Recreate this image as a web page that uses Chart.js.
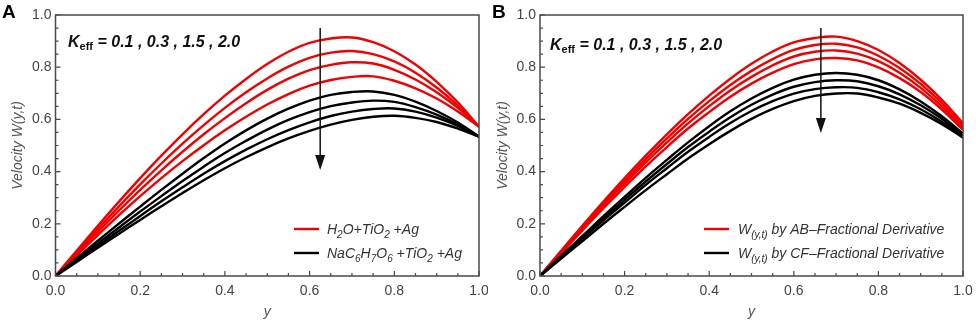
<!DOCTYPE html>
<html>
<head>
<meta charset="utf-8">
<script src="https://cdn.jsdelivr.net/npm/chart.js@4.4.1/dist/chart.umd.min.js"></script>
<style>
  html, body { margin: 0; padding: 0; background: #fff; }
  #wrap { position: relative; width: 976px; height: 325px; }
  canvas { position: absolute; top: 0; }
</style>
</head>
<body>
<div id="wrap">
  <canvas id="chartA" width="488" height="325" style="left:0"></canvas>
  <canvas id="chartB" width="488" height="325" style="left:488px"></canvas>
</div>
<script>
// y positions (x axis) shared by every curve
const yPos = [0, 0.05, 0.1, 0.15, 0.2, 0.25, 0.3, 0.35, 0.4, 0.45, 0.5,
              0.55, 0.6, 0.65, 0.7, 0.75, 0.8, 0.85, 0.9, 0.95, 1.0];

// panel A : H2O+TiO2+Ag (red) vs NaC6H7O6+TiO2+Ag (black), Keff = 0.1, 0.3, 1.5, 2.0
const aRed1   = [0, 0.097, 0.192, 0.285, 0.375, 0.461, 0.543, 0.620, 0.691, 0.755, 0.812, 0.859, 0.893, 0.910, 0.914, 0.896, 0.861, 0.810, 0.744, 0.665, 0.572];
const aRed2   = [0, 0.091, 0.180, 0.267, 0.351, 0.431, 0.507, 0.578, 0.644, 0.704, 0.757, 0.802, 0.836, 0.856, 0.862, 0.850, 0.822, 0.779, 0.722, 0.653, 0.572];
const aRed3   = [0, 0.085, 0.169, 0.251, 0.330, 0.405, 0.476, 0.543, 0.605, 0.662, 0.713, 0.756, 0.789, 0.809, 0.819, 0.814, 0.790, 0.753, 0.704, 0.644, 0.572];
const aRed4   = [0, 0.079, 0.157, 0.233, 0.306, 0.375, 0.440, 0.501, 0.558, 0.610, 0.657, 0.697, 0.729, 0.751, 0.763, 0.765, 0.748, 0.719, 0.680, 0.630, 0.572];
const aBlack1 = [0, 0.068, 0.135, 0.201, 0.266, 0.330, 0.392, 0.452, 0.508, 0.558, 0.603, 0.641, 0.672, 0.694, 0.705, 0.707, 0.694, 0.668, 0.632, 0.588, 0.534];
const aBlack2 = [0, 0.062, 0.124, 0.186, 0.247, 0.306, 0.364, 0.419, 0.471, 0.518, 0.561, 0.598, 0.628, 0.651, 0.665, 0.672, 0.667, 0.647, 0.618, 0.580, 0.534];
const aBlack3 = [0, 0.058, 0.116, 0.173, 0.230, 0.286, 0.340, 0.392, 0.440, 0.484, 0.524, 0.559, 0.589, 0.613, 0.630, 0.640, 0.642, 0.630, 0.607, 0.575, 0.534];
const aBlack4 = [0, 0.054, 0.108, 0.162, 0.215, 0.267, 0.318, 0.367, 0.413, 0.455, 0.493, 0.527, 0.556, 0.580, 0.598, 0.610, 0.614, 0.606, 0.590, 0.565, 0.534];

// panel B : AB-fractional (red) vs CF-fractional (black)
const bRed1   = [0, 0.097, 0.192, 0.285, 0.375, 0.461, 0.543, 0.620, 0.691, 0.756, 0.813, 0.860, 0.895, 0.912, 0.917, 0.900, 0.866, 0.816, 0.752, 0.675, 0.585];
const bRed2   = [0, 0.094, 0.186, 0.277, 0.364, 0.448, 0.527, 0.602, 0.670, 0.732, 0.786, 0.831, 0.866, 0.885, 0.890, 0.876, 0.844, 0.797, 0.736, 0.662, 0.575];
const bRed3   = [0, 0.091, 0.181, 0.269, 0.353, 0.435, 0.512, 0.585, 0.651, 0.711, 0.763, 0.807, 0.841, 0.859, 0.864, 0.852, 0.823, 0.779, 0.721, 0.650, 0.567];
const bRed4   = [0, 0.088, 0.174, 0.260, 0.341, 0.420, 0.494, 0.565, 0.628, 0.687, 0.737, 0.779, 0.812, 0.830, 0.835, 0.826, 0.799, 0.758, 0.705, 0.638, 0.560];
const bBlack1 = [0, 0.077, 0.153, 0.229, 0.303, 0.376, 0.445, 0.512, 0.574, 0.631, 0.680, 0.721, 0.752, 0.771, 0.778, 0.771, 0.750, 0.715, 0.669, 0.612, 0.545];
const bBlack2 = [0, 0.074, 0.147, 0.221, 0.292, 0.362, 0.429, 0.494, 0.553, 0.608, 0.656, 0.695, 0.725, 0.743, 0.750, 0.746, 0.727, 0.696, 0.654, 0.602, 0.540];
const bBlack3 = [0, 0.072, 0.142, 0.213, 0.281, 0.349, 0.413, 0.476, 0.533, 0.586, 0.632, 0.670, 0.699, 0.716, 0.723, 0.721, 0.704, 0.677, 0.639, 0.591, 0.535];
const bBlack4 = [0, 0.067, 0.133, 0.200, 0.265, 0.329, 0.390, 0.450, 0.505, 0.556, 0.602, 0.640, 0.670, 0.690, 0.699, 0.699, 0.684, 0.660, 0.625, 0.582, 0.530];

const axisTicks = [0, 0.2, 0.4, 0.6, 0.8, 1.0];
const keffText = ' = 0.1 , 0.3 , 1.5 , 2.0';

const RED = '#f20000';
const BLACK = '#000000';
const FONT = '"Liberation Sans", Arial, sans-serif';

const panels = [
  {
    id: 'chartA', label: 'A', labelX: 2,
    red: [aRed1, aRed2, aRed3, aRed4], black: [aBlack1, aBlack2, aBlack3, aBlack4],
    arrow: { x: 0.625, from: 0.95, to: 0.406 },
    yWidth: 55.5, padRight: 9, keffX: 68, keffY: 47, titlePad: 10,
    legend: { lineX: 294, textX: 327, y: 229,
      rows: [
        { color: RED, parts: [['H'], ['2', 1], ['O+TiO'], ['2', 1], [' +Ag']] },
        { color: BLACK, parts: [['NaC'], ['6', 1], ['H'], ['7', 1], ['O'], ['6', 1], [' +TiO'], ['2', 1], [' +Ag']] }
      ] }
  },
  {
    id: 'chartB', label: 'B', labelX: 4,
    red: [bRed1, bRed2, bRed3, bRed4], black: [bBlack1, bBlack2, bBlack3, bBlack4],
    arrow: { x: 0.664, from: 0.95, to: 0.548 },
    yWidth: 52, padRight: 13, keffX: 62, keffY: 50, titlePad: 7,
    legend: { lineX: 216, textX: 250, y: 229,
      rows: [
        { color: RED, parts: [['W'], ['(y,t)', 1], [' by AB\u2013Fractional Derivative']] },
        { color: BLACK, parts: [['W'], ['(y,t)', 1], [' by CF\u2013Fractional Derivative']] }
      ] }
  }
];

// italic text with lowered subscripts
function drawParts(ctx, x, y, parts, size, subSize) {
  for (const [txt, sub] of parts) {
    ctx.font = 'italic ' + (sub ? subSize : size) + 'px ' + FONT;
    ctx.fillText(txt, x, y + (sub ? 4 : 0));
    x += ctx.measureText(txt).width;
  }
  return x;
}

const framePlugin = {
  id: 'frame',
  afterDatasetsDraw(chart, args, p) {
    const { ctx, chartArea: a, scales: { x, y } } = chart;
    ctx.save();
    // box
    ctx.strokeStyle = '#4a4a4a';
    ctx.lineWidth = 1.5;
    ctx.strokeRect(a.left, a.top, a.right - a.left, a.bottom - a.top);
    // inward ticks, minor every 0.05
    ctx.lineWidth = 1.2;
    ctx.beginPath();
    for (let i = 0; i <= 20; i++) {
      const len = i % 4 === 0 ? 5 : 3;
      const px = x.getPixelForValue(i * 0.05);
      ctx.moveTo(px, a.bottom); ctx.lineTo(px, a.bottom - len);
      const py = y.getPixelForValue(i * 0.05);
      ctx.moveTo(a.left, py); ctx.lineTo(a.left + len, py);
    }
    ctx.stroke();

    // arrow
    const ax = x.getPixelForValue(p.arrow.x);
    const y0 = y.getPixelForValue(p.arrow.from);
    const y1 = y.getPixelForValue(p.arrow.to);
    ctx.strokeStyle = '#111';
    ctx.fillStyle = '#111';
    ctx.lineWidth = 1.5;
    ctx.beginPath(); ctx.moveTo(ax, y0); ctx.lineTo(ax, y1 - 12); ctx.stroke();
    ctx.beginPath();
    ctx.moveTo(ax - 5, y1 - 15); ctx.lineTo(ax + 5, y1 - 15); ctx.lineTo(ax, y1);
    ctx.closePath(); ctx.fill();

    // Keff annotation
    ctx.fillStyle = '#111';
    ctx.textBaseline = 'alphabetic';
    ctx.textAlign = 'left';
    let kx = p.keffX;
    ctx.font = 'italic bold 16px ' + FONT;
    ctx.fillText('K', kx, p.keffY); kx += ctx.measureText('K').width;
    ctx.font = 'bold 11px ' + FONT;
    ctx.fillText('eff', kx, p.keffY + 3); kx += ctx.measureText('eff').width;
    ctx.font = 'italic bold 16px ' + FONT;
    ctx.fillText(keffText, kx, p.keffY);

    // legend
    const L = p.legend;
    L.rows.forEach((row, i) => {
      const ly = L.y + i * 24;
      ctx.strokeStyle = row.color;
      ctx.lineWidth = 2.4;
      ctx.beginPath(); ctx.moveTo(L.lineX, ly); ctx.lineTo(L.lineX + 25, ly); ctx.stroke();
      ctx.fillStyle = '#333';
      drawParts(ctx, L.textX, ly + 5, row.parts, 14, 10);
    });

    // panel letter
    ctx.fillStyle = '#000';
    ctx.font = 'bold 19px ' + FONT;
    ctx.fillText(p.label, p.labelX, 17.5);
    ctx.restore();
  }
};

function axisFont(style) {
  return { family: FONT, size: 14, style: style };
}

panels.forEach(p => {
  const datasets = [];
  p.black.forEach((arr, i) => datasets.push({
    label: 'black' + i, data: arr, borderColor: BLACK, borderWidth: 2.4,
    pointRadius: 0, tension: 0.4, fill: false
  }));
  p.red.forEach((arr, i) => datasets.push({
    label: 'red' + i, data: arr, borderColor: RED, borderWidth: 2.4,
    pointRadius: 0, tension: 0.4, fill: false
  }));
  datasets.forEach(d => { d.data = d.data.map((v, i) => ({ x: yPos[i], y: v })); });

  new Chart(document.getElementById(p.id), {
    type: 'line',
    data: { datasets: datasets },
    options: {
      responsive: false,
      animation: false,
      devicePixelRatio: 1,
      layout: { padding: { left: 0, top: 15, right: p.padRight, bottom: 0 } },
      plugins: { legend: { display: false }, tooltip: { enabled: false }, frame: p },
      scales: {
        x: {
          type: 'linear', min: 0, max: 1,
          border: { display: false },
          grid: { display: false, drawTicks: false },
          afterBuildTicks: s => { s.ticks = axisTicks.map(v => ({ value: v })); },
          ticks: { padding: 7, color: '#444', font: axisFont('normal'), maxRotation: 0,
                   callback: v => v.toFixed(1) },
          title: { display: true, text: 'y', color: '#555', font: axisFont('italic'),
                   padding: { top: 0, bottom: 4 } },
          afterFit: s => { s.height = 49; s.paddingLeft = 0; s.paddingRight = 0; }
        },
        y: {
          type: 'linear', min: 0, max: 1,
          border: { display: false },
          grid: { display: false, drawTicks: false },
          afterBuildTicks: s => { s.ticks = axisTicks.map(v => ({ value: v })); },
          ticks: { padding: 4, color: '#444', font: axisFont('normal'),
                   callback: v => v.toFixed(1) },
          title: { display: true, text: 'Velocity W(y,t)', color: '#555', font: axisFont('italic'),
                   padding: { top: p.titlePad, bottom: 0 } },
          afterFit: s => { s.width = p.yWidth; s.paddingTop = 0; s.paddingBottom = 0; }
        }
      }
    },
    plugins: [framePlugin]
  });
});
</script>
</body>
</html>
